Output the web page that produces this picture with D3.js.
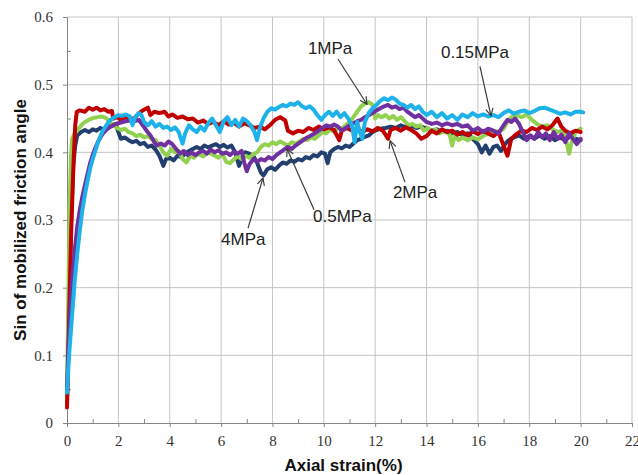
<head>
    <meta charset="utf-8">
    <style> body { margin: 0; background: #ffffff; } </style>
    <script src="https://d3js.org/d3.v7.min.js"></script>
</head>
<body>
<div id="chart"></div>
<script>

// axial strain (%) / sin of mobilized friction angle
var s015 = [[0,0.045],[0.05,0.08],[0.1,0.11],[0.2,0.16],[0.3,0.21],[0.4,0.25],[0.5,0.285],[0.6,0.315],[0.7,0.338],[0.8,0.358],[0.9,0.376],[1.0,0.39],[1.1,0.402],[1.2,0.414],[1.3,0.424],[1.4,0.432],[1.5,0.438],[1.6,0.444],[1.7,0.448],[1.85,0.452],[2.0,0.455],[2.15,0.454],[2.3,0.456],[2.45,0.453],[2.55,0.44],[2.65,0.452],[2.8,0.458],[2.9,0.455],[3.0,0.445],[3.15,0.44],[3.3,0.446],[3.45,0.438],[3.6,0.442],[3.75,0.436],[3.9,0.438],[4.05,0.433],[4.2,0.437],[4.35,0.43],[4.5,0.413],[4.6,0.428],[4.75,0.44],[4.9,0.434],[5.05,0.43],[5.2,0.438],[5.35,0.432],[5.5,0.443],[5.65,0.45],[5.8,0.44],[5.95,0.43],[6.1,0.446],[6.25,0.452],[6.4,0.44],[6.55,0.448],[6.7,0.438],[6.85,0.45],[7.0,0.446],[7.15,0.44],[7.3,0.43],[7.4,0.418],[7.5,0.435],[7.65,0.45],[7.8,0.46],[7.95,0.465],[8.1,0.463],[8.25,0.467],[8.4,0.47],[8.55,0.468],[8.7,0.472],[8.85,0.47],[9.0,0.474],[9.15,0.468],[9.3,0.465],[9.45,0.468],[9.6,0.463],[9.75,0.455],[9.9,0.448],[10.05,0.455],[10.2,0.46],[10.35,0.454],[10.5,0.46],[10.65,0.452],[10.8,0.458],[10.95,0.45],[11.1,0.44],[11.2,0.415],[11.3,0.445],[11.4,0.43],[11.5,0.42],[11.6,0.445],[11.75,0.458],[11.9,0.465],[12.05,0.47],[12.2,0.476],[12.35,0.48],[12.5,0.477],[12.65,0.481],[12.8,0.478],[12.95,0.472],[13.1,0.47],[13.25,0.466],[13.4,0.47],[13.55,0.464],[13.7,0.468],[13.85,0.46],[14.0,0.455],[14.2,0.46],[14.4,0.452],[14.6,0.458],[14.8,0.45],[15.0,0.455],[15.2,0.448],[15.4,0.456],[15.6,0.452],[15.8,0.458],[16.0,0.453],[16.2,0.456],[16.4,0.453],[16.6,0.455],[16.8,0.452],[17.0,0.458],[17.2,0.462],[17.4,0.457],[17.6,0.46],[17.8,0.462],[18.0,0.458],[18.2,0.461],[18.4,0.465],[18.6,0.466],[18.8,0.463],[19.0,0.46],[19.2,0.457],[19.4,0.459],[19.6,0.456],[19.8,0.46],[20.0,0.46],[20.1,0.459]];

var s05 = [[0,0.045],[0.05,0.1],[0.1,0.15],[0.2,0.21],[0.3,0.255],[0.4,0.29],[0.5,0.315],[0.6,0.335],[0.7,0.352],[0.8,0.368],[0.9,0.384],[1.0,0.396],[1.1,0.406],[1.2,0.415],[1.3,0.422],[1.4,0.428],[1.55,0.434],[1.7,0.438],[1.85,0.441],[2.0,0.443],[2.2,0.445],[2.4,0.447],[2.6,0.446],[2.8,0.448],[2.95,0.44],[3.1,0.432],[3.25,0.425],[3.4,0.415],[3.5,0.41],[3.65,0.413],[3.8,0.41],[3.95,0.416],[4.1,0.412],[4.25,0.405],[4.4,0.398],[4.55,0.402],[4.7,0.396],[4.85,0.4],[5.0,0.396],[5.15,0.4],[5.3,0.402],[5.45,0.398],[5.6,0.404],[5.75,0.4],[5.9,0.403],[6.05,0.398],[6.2,0.4],[6.35,0.396],[6.5,0.401],[6.65,0.398],[6.8,0.402],[6.9,0.385],[7.0,0.372],[7.1,0.382],[7.25,0.39],[7.4,0.386],[7.55,0.39],[7.7,0.388],[7.85,0.393],[8.0,0.39],[8.15,0.396],[8.3,0.4],[8.45,0.404],[8.6,0.408],[8.75,0.405],[8.9,0.41],[9.05,0.414],[9.2,0.418],[9.35,0.422],[9.5,0.425],[9.65,0.428],[9.8,0.432],[9.95,0.436],[10.1,0.44],[10.25,0.438],[10.4,0.441],[10.55,0.438],[10.7,0.432],[10.85,0.436],[11.0,0.44],[11.15,0.443],[11.3,0.446],[11.45,0.448],[11.6,0.452],[11.75,0.455],[11.9,0.458],[12.05,0.462],[12.2,0.465],[12.35,0.468],[12.5,0.47],[12.65,0.466],[12.8,0.468],[12.95,0.464],[13.1,0.466],[13.25,0.46],[13.4,0.456],[13.55,0.452],[13.7,0.455],[13.85,0.45],[14.0,0.445],[14.2,0.442],[14.4,0.444],[14.6,0.44],[14.8,0.443],[15.0,0.44],[15.2,0.442],[15.4,0.438],[15.6,0.44],[15.8,0.432],[16.0,0.436],[16.2,0.43],[16.4,0.435],[16.6,0.432],[16.8,0.428],[17.0,0.44],[17.15,0.448],[17.3,0.445],[17.45,0.45],[17.6,0.442],[17.75,0.43],[17.9,0.418],[18.05,0.425],[18.2,0.42],[18.35,0.43],[18.5,0.422],[18.65,0.428],[18.8,0.418],[18.95,0.43],[19.1,0.42],[19.25,0.426],[19.4,0.415],[19.55,0.428],[19.7,0.42],[19.85,0.412],[20.0,0.42]];

var s1 = [[0,0.035],[0.05,0.18],[0.1,0.32],[0.15,0.39],[0.2,0.42],[0.3,0.428],[0.45,0.435],[0.6,0.442],[0.75,0.446],[0.9,0.449],[1.05,0.451],[1.2,0.452],[1.35,0.453],[1.5,0.451],[1.65,0.446],[1.8,0.44],[1.95,0.436],[2.1,0.433],[2.25,0.435],[2.4,0.43],[2.55,0.428],[2.7,0.424],[2.85,0.426],[3.0,0.422],[3.15,0.424],[3.3,0.42],[3.45,0.418],[3.6,0.41],[3.75,0.4],[3.9,0.395],[4.05,0.405],[4.2,0.4],[4.35,0.402],[4.5,0.39],[4.65,0.385],[4.8,0.395],[4.95,0.392],[5.1,0.398],[5.3,0.394],[5.5,0.4],[5.7,0.396],[5.9,0.392],[6.05,0.398],[6.2,0.386],[6.35,0.384],[6.5,0.39],[6.65,0.394],[6.8,0.39],[6.95,0.395],[7.1,0.392],[7.25,0.397],[7.4,0.4],[7.55,0.408],[7.7,0.412],[7.85,0.41],[8.0,0.415],[8.15,0.412],[8.3,0.416],[8.45,0.413],[8.6,0.41],[8.75,0.415],[8.9,0.413],[9.05,0.416],[9.2,0.42],[9.35,0.418],[9.5,0.422],[9.65,0.42],[9.8,0.425],[9.95,0.43],[10.1,0.428],[10.25,0.434],[10.4,0.43],[10.55,0.437],[10.7,0.435],[10.85,0.44],[11.0,0.445],[11.15,0.452],[11.3,0.46],[11.45,0.468],[11.6,0.472],[11.75,0.474],[11.9,0.47],[12.0,0.45],[12.1,0.455],[12.25,0.452],[12.4,0.455],[12.55,0.45],[12.7,0.454],[12.85,0.448],[13.0,0.452],[13.15,0.446],[13.3,0.44],[13.45,0.442],[13.6,0.438],[13.75,0.44],[13.9,0.432],[14.05,0.436],[14.2,0.43],[14.35,0.434],[14.5,0.428],[14.7,0.432],[14.9,0.426],[15.0,0.41],[15.1,0.425],[15.25,0.418],[15.4,0.422],[15.6,0.418],[15.8,0.422],[16.0,0.419],[16.2,0.424],[16.4,0.428],[16.6,0.432],[16.8,0.43],[17.0,0.435],[17.15,0.445],[17.3,0.452],[17.5,0.455],[17.7,0.452],[17.9,0.456],[18.1,0.448],[18.3,0.442],[18.5,0.438],[18.7,0.44],[18.9,0.434],[19.1,0.43],[19.3,0.432],[19.45,0.415],[19.55,0.398],[19.65,0.415],[19.8,0.43],[20.0,0.435]];

var s2 = [[0,0.023],[0.08,0.15],[0.16,0.28],[0.25,0.38],[0.32,0.44],[0.38,0.46],[0.5,0.462],[0.7,0.46],[0.85,0.466],[1.0,0.463],[1.15,0.466],[1.3,0.462],[1.45,0.464],[1.6,0.46],[1.75,0.461],[1.8,0.45],[1.95,0.452],[2.1,0.448],[2.3,0.452],[2.5,0.449],[2.65,0.451],[2.8,0.458],[3.0,0.463],[3.15,0.466],[3.25,0.455],[3.4,0.46],[3.6,0.458],[3.8,0.46],[3.95,0.453],[4.1,0.456],[4.3,0.451],[4.5,0.453],[4.7,0.449],[4.9,0.45],[5.1,0.444],[5.3,0.447],[5.5,0.442],[5.7,0.445],[5.9,0.44],[6.1,0.446],[6.3,0.441],[6.5,0.444],[6.7,0.438],[6.9,0.443],[7.1,0.44],[7.3,0.436],[7.5,0.438],[7.7,0.434],[7.9,0.44],[8.1,0.448],[8.3,0.452],[8.5,0.447],[8.6,0.432],[8.8,0.428],[9.0,0.432],[9.2,0.43],[9.4,0.436],[9.6,0.433],[9.8,0.438],[10.0,0.434],[10.2,0.437],[10.4,0.433],[10.6,0.418],[10.7,0.432],[10.9,0.436],[11.1,0.432],[11.3,0.435],[11.5,0.43],[11.7,0.434],[11.9,0.431],[12.1,0.436],[12.3,0.432],[12.5,0.42],[12.6,0.433],[12.8,0.436],[13.0,0.432],[13.2,0.437],[13.4,0.433],[13.6,0.428],[13.8,0.42],[14.0,0.424],[14.2,0.432],[14.4,0.428],[14.6,0.434],[14.8,0.43],[15.0,0.432],[15.2,0.426],[15.4,0.43],[15.6,0.425],[15.8,0.431],[16.0,0.427],[16.2,0.432],[16.4,0.428],[16.6,0.424],[16.8,0.43],[17.0,0.41],[17.15,0.395],[17.3,0.42],[17.5,0.427],[17.7,0.432],[17.9,0.43],[18.1,0.436],[18.3,0.433],[18.5,0.438],[18.7,0.434],[18.9,0.44],[19.1,0.45],[19.25,0.438],[19.4,0.432],[19.6,0.428],[19.8,0.432],[20.0,0.43]];

var s4 = [[0,0.03],[0.08,0.18],[0.16,0.3],[0.24,0.38],[0.32,0.41],[0.4,0.425],[0.55,0.43],[0.7,0.433],[0.85,0.43],[1.0,0.434],[1.15,0.432],[1.3,0.436],[1.45,0.433],[1.6,0.437],[1.75,0.44],[1.9,0.442],[2.0,0.43],[2.1,0.42],[2.25,0.422],[2.4,0.418],[2.55,0.415],[2.7,0.417],[2.85,0.412],[3.0,0.414],[3.15,0.408],[3.3,0.41],[3.45,0.404],[3.6,0.395],[3.75,0.38],[3.85,0.39],[4.0,0.392],[4.15,0.388],[4.3,0.395],[4.45,0.393],[4.6,0.398],[4.75,0.402],[4.9,0.405],[5.05,0.408],[5.2,0.405],[5.35,0.41],[5.5,0.407],[5.65,0.41],[5.8,0.412],[5.95,0.408],[6.1,0.411],[6.25,0.407],[6.4,0.41],[6.55,0.4],[6.7,0.38],[6.8,0.39],[6.95,0.4],[7.1,0.398],[7.25,0.395],[7.4,0.385],[7.55,0.37],[7.65,0.366],[7.8,0.375],[7.95,0.378],[8.1,0.374],[8.25,0.38],[8.4,0.385],[8.55,0.383],[8.7,0.388],[8.85,0.386],[9.0,0.39],[9.15,0.388],[9.3,0.393],[9.45,0.391],[9.6,0.396],[9.75,0.394],[9.9,0.4],[10.05,0.398],[10.15,0.384],[10.25,0.4],[10.4,0.405],[10.55,0.408],[10.7,0.406],[10.85,0.41],[11.0,0.408],[11.15,0.413],[11.3,0.418],[11.45,0.42],[11.6,0.423],[11.75,0.425],[11.9,0.43],[12.05,0.433],[12.2,0.435],[12.4,0.436],[12.6,0.438],[12.8,0.436],[13.0,0.44],[13.2,0.437],[13.4,0.439],[13.6,0.436],[13.8,0.438],[14.0,0.435],[14.2,0.432],[14.4,0.434],[14.6,0.43],[14.8,0.432],[15.0,0.428],[15.2,0.43],[15.4,0.425],[15.6,0.428],[15.8,0.42],[16.0,0.412],[16.15,0.4],[16.3,0.41],[16.45,0.398],[16.6,0.408],[16.75,0.41],[16.9,0.402],[17.05,0.412],[17.2,0.418],[17.4,0.422],[17.6,0.425],[17.8,0.42],[18.0,0.424],[18.2,0.42],[18.4,0.425],[18.6,0.42],[18.8,0.424],[19.0,0.418],[19.2,0.422],[19.4,0.418],[19.6,0.424],[19.8,0.42],[20.0,0.418]];

// draw order (bottom first)
var seriesNames = ["4MPa", "1MPa", "2MPa", "0.5MPa", "0.15MPa"];
var seriesData = [s4, s1, s2, s05, s015];
var seriesColors = ["#233f6f", "#92d050", "#c00000", "#7030a0", "#1db3ea"];

var xTicks = d3.range(0, 23, 2);
var xMinor = d3.range(1, 22, 2);
var yTicks = [0, 0.1, 0.2, 0.3, 0.4, 0.5, 0.6];
var yMinor = [0.05, 0.15, 0.25, 0.35, 0.45, 0.55];

// label text, text anchor point, arrow start, arrow tip (data units)
var notes = [
    { text: "1MPa",    tx: 9.38,  ty: 0.545, x1: 10.55, y1: 0.538, x2: 11.68, y2: 0.471 },
    { text: "0.15MPa", tx: 14.56, ty: 0.539, x1: 16.08, y1: 0.527, x2: 16.51, y2: 0.454 },
    { text: "2MPa",    tx: 12.69, ty: 0.332, x1: 13.16, y1: 0.356, x2: 12.58, y2: 0.417 },
    { text: "0.5MPa",  tx: 9.58,  ty: 0.297, x1: 9.62,  y1: 0.315, x2: 8.57,  y2: 0.405 },
    { text: "4MPa",    tx: 6.0,   ty: 0.263, x1: 7.05,  y1: 0.288, x2: 7.63,  y2: 0.362 }
];

var W = 638, H = 475;
var margin = { top: 17, right: 6, bottom: 52, left: 67 };
var width = W - margin.left - margin.right,
    height = H - margin.top - margin.bottom;

var svg = d3.select("#chart").append("svg")
    .attr("width", W)
    .attr("height", H);

svg.append("defs").append("marker")
    .attr("id", "arrow")
    .attr("viewBox", "0 0 10 10")
    .attr("refX", 9)
    .attr("refY", 5)
    .attr("markerWidth", 9)
    .attr("markerHeight", 9)
    .attr("markerUnits", "userSpaceOnUse")
    .attr("orient", "auto")
    .append("path")
    .attr("d", "M1,1 L9,5 L1,9")
    .attr("fill", "none")
    .attr("stroke", "#3a3a3a")
    .attr("stroke-width", 1.3);

var g = svg.append("g")
    .attr("transform", `translate(${margin.left},${margin.top})`);

var x = d3.scaleLinear().domain([0, 22]).range([0, width]);
var y = d3.scaleLinear().domain([0, 0.6]).range([height, 0]);

// grid
g.append("g")
    .selectAll("line")
    .data(xTicks.slice(1))
    .enter().append("line")
    .attr("x1", d => x(d)).attr("x2", d => x(d))
    .attr("y1", 0).attr("y2", height)
    .attr("stroke", "#c4c4c4").attr("stroke-width", 1);

g.append("g")
    .selectAll("line")
    .data(yTicks.slice(1))
    .enter().append("line")
    .attr("x1", 0).attr("x2", width)
    .attr("y1", d => y(d)).attr("y2", d => y(d))
    .attr("stroke", "#c4c4c4").attr("stroke-width", 1);

// axes
var xx = g.append("g")
    .attr("class", "ax")
    .attr("transform", `translate(0,${height})`)
    .call(d3.axisBottom(x).tickValues(xTicks).tickSize(4).tickSizeOuter(0).tickPadding(8).tickFormat(d3.format("d")));

var xm = g.append("g")
    .attr("transform", `translate(0,${height})`)
    .call(d3.axisBottom(x).tickValues(xMinor).tickSize(-4).tickSizeOuter(0).tickFormat(""));
xm.select(".domain").remove();

var yx = g.append("g")
    .attr("class", "ax")
    .call(d3.axisLeft(y).tickValues(yTicks).tickSize(4).tickSizeOuter(0).tickPadding(10)
        .tickFormat(d => d === 0 ? "0" : d.toFixed(1)));

var ym = g.append("g")
    .call(d3.axisLeft(y).tickValues(yMinor).tickSize(-4).tickSizeOuter(0).tickFormat(""));
ym.select(".domain").remove();

g.selectAll(".domain").attr("stroke", "#868686");
g.selectAll(".tick line").attr("stroke", "#868686");
g.selectAll(".ax").attr("font-family", null);
g.selectAll(".ax text")
    .style("font-family", "'Liberation Serif', 'DejaVu Serif', serif")
    .style("font-size", "15px")
    .attr("fill", "#333");

// series
var line = d3.line()
    .x(d => x(d[0]))
    .y(d => y(d[1]));

g.append("g")
    .selectAll("path")
    .data(seriesData)
    .enter().append("path")
    .attr("d", d => line(d))
    .attr("fill", "none")
    .attr("stroke", (d, i) => seriesColors[i])
    .attr("stroke-width", 4)
    .attr("stroke-linejoin", "round")
    .attr("stroke-linecap", "round");

// annotations
var ann = g.append("g");
ann.selectAll("line")
    .data(notes)
    .enter().append("line")
    .attr("x1", d => x(d.x1)).attr("y1", d => y(d.y1))
    .attr("x2", d => x(d.x2)).attr("y2", d => y(d.y2))
    .attr("stroke", "#3a3a3a")
    .attr("stroke-width", 1.2)
    .attr("marker-end", "url(#arrow)");

ann.selectAll("text")
    .data(notes)
    .enter().append("text")
    .attr("x", d => x(d.tx))
    .attr("y", d => y(d.ty))
    .attr("font-family", "'Liberation Sans', Arial, sans-serif")
    .attr("font-size", 17)
    .attr("fill", "#222")
    .text(d => d.text);

// axis titles
svg.append("text")
    .attr("x", margin.left + width / 2 - 6)
    .attr("y", 471)
    .attr("text-anchor", "middle")
    .attr("font-family", "'Liberation Sans', Arial, sans-serif")
    .attr("font-weight", "bold")
    .attr("font-size", 17)
    .attr("fill", "#111")
    .text("Axial strain(%)");

svg.append("text")
    .attr("transform", "translate(26,220) rotate(-90)")
    .attr("text-anchor", "middle")
    .attr("font-family", "'Liberation Sans', Arial, sans-serif")
    .attr("font-weight", "bold")
    .attr("font-size", 17)
    .attr("fill", "#111")
    .text("Sin of mobilized friction angle");

</script>
</body>
